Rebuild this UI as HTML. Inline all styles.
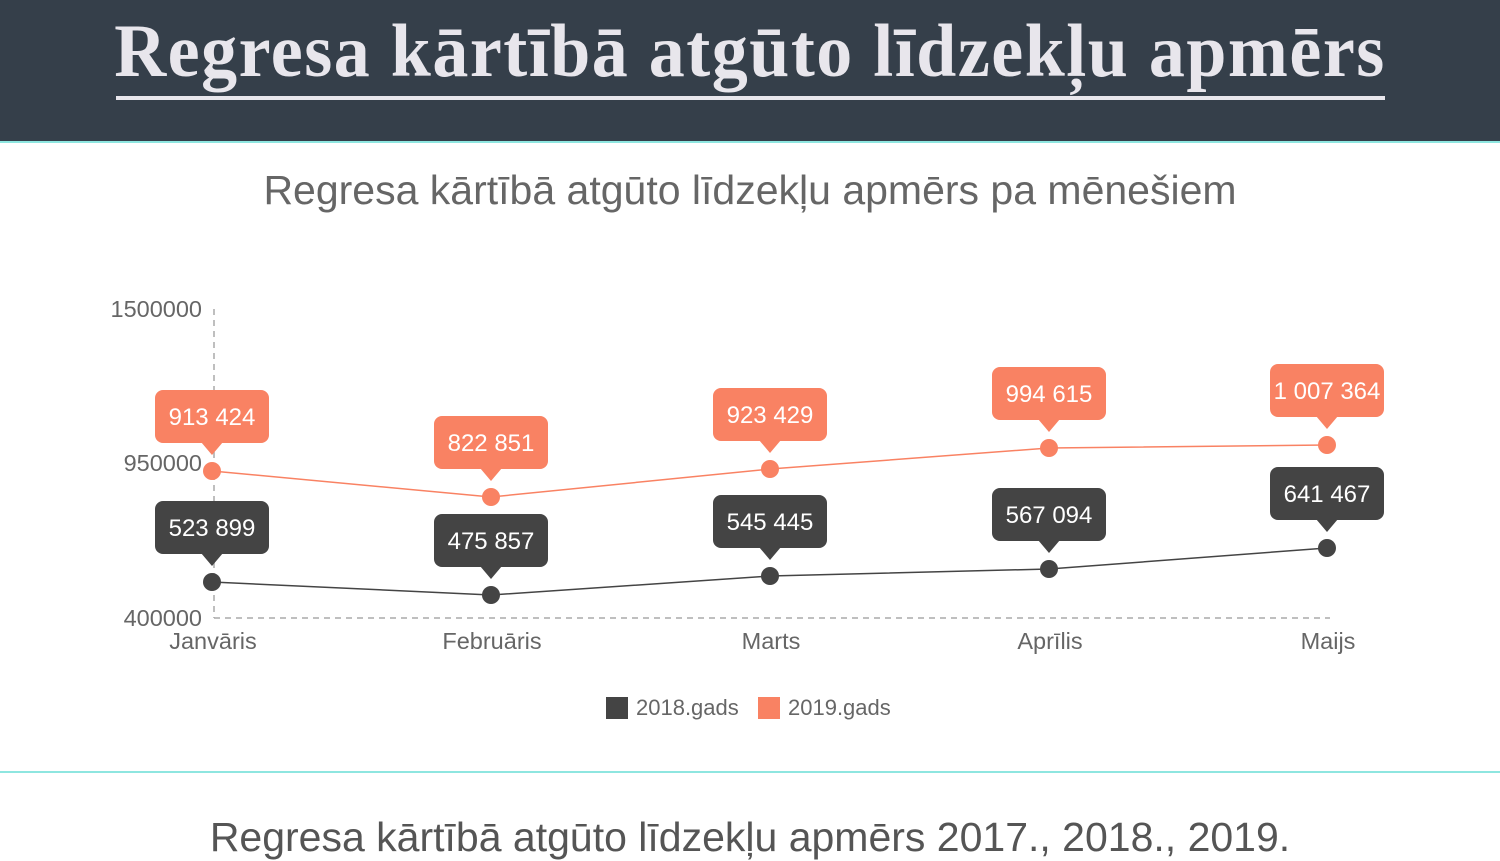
<!DOCTYPE html>
<html><head><meta charset="utf-8"><style>
body{margin:0;width:1500px;height:860px;overflow:hidden;background:#fff;font-family:"Liberation Sans",sans-serif;position:relative}
.hdr{position:absolute;left:0;top:0;width:1500px;height:141px;background:#353f4a;border-bottom:2px solid #8ee6e0}
.t{position:absolute;left:0;width:1500px;top:10px;text-align:center;font-family:"Liberation Serif",serif;font-weight:bold;font-size:72px;color:#e8e6ec;letter-spacing:1.5px;transform:scaleY(1.05)}
.ul{position:absolute;left:116px;top:96px;width:1269px;height:4px;background:#e8e6ec}
.sub{position:absolute;left:0;width:1500px;top:167px;text-align:center;font-size:41px;color:#666}
.bl{position:absolute;left:0;top:771px;width:1500px;height:2px;background:#8ee6e0}
.bt{position:absolute;left:0;width:1500px;top:814px;text-align:center;font-size:41px;color:#555}
</style></head><body>
<div class="hdr"><div class="t">Regresa kārtībā atgūto līdzekļu apmērs</div><div class="ul"></div></div>
<div class="sub">Regresa kārtībā atgūto līdzekļu apmērs pa mēnešiem</div>
<svg width="1500" height="860" style="position:absolute;left:0;top:0" font-family="Liberation Sans, sans-serif">
<g fill="#666" font-size="23.5" text-anchor="end">
<text x="202" y="317">1500000</text><text x="202" y="471">950000</text><text x="202" y="626">400000</text></g>
<line x1="214" y1="309" x2="214" y2="618" stroke="#aaa" stroke-width="1.5" stroke-dasharray="6,5"/>
<line x1="214" y1="618" x2="1330" y2="618" stroke="#aaa" stroke-width="1.5" stroke-dasharray="6,5"/>
<g fill="#666" font-size="23.5" text-anchor="middle">
<text x="213" y="649">Janvāris</text><text x="492" y="649">Februāris</text><text x="771" y="649">Marts</text><text x="1050" y="649">Aprīlis</text><text x="1328" y="649">Maijs</text></g>
<polyline points="212,471 491,497 770,469 1049,448 1327,445" fill="none" stroke="#f98263" stroke-width="1.5"/>
<polyline points="212,582 491,595 770,576 1049,569 1327,548" fill="none" stroke="#444" stroke-width="1.5"/>
<g id="pts"></g>
</svg>
<script>
var d=[[212,471,"913 424","#f98263"],[491,497,"822 851","#f98263"],[770,469,"923 429","#f98263"],[1049,448,"994 615","#f98263"],[1327,445,"1 007 364","#f98263"],
[212,582,"523 899","#444"],[491,595,"475 857","#444"],[770,576,"545 445","#444"],[1049,569,"567 094","#444"],[1327,548,"641 467","#444"]];
var s="";d.forEach(function(p){var x=p[0],y=p[1],c=p[3];
s+='<circle cx="'+x+'" cy="'+y+'" r="9" fill="'+c+'"/>';
s+='<rect x="'+(x-57)+'" y="'+(y-81)+'" width="114" height="53" rx="8" fill="'+c+'"/>';
s+='<polygon points="'+(x-11)+','+(y-29)+' '+(x+11)+','+(y-29)+' '+x+','+(y-16)+'" fill="'+c+'"/>';
s+='<text x="'+x+'" y="'+(y-46)+'" fill="#fff" font-size="24" text-anchor="middle">'+p[2]+'</text>';});
document.getElementById("pts").innerHTML=s;
</script>
<div style="position:absolute;left:606px;top:697px;width:22px;height:22px;background:#444"></div>
<div style="position:absolute;left:636px;top:695px;font-size:22px;color:#666">2018.gads</div>
<div style="position:absolute;left:758px;top:697px;width:22px;height:22px;background:#f98263"></div>
<div style="position:absolute;left:788px;top:695px;font-size:22px;color:#666">2019.gads</div>
<div class="bl"></div>
<div class="bt">Regresa kārtībā atgūto līdzekļu apmērs 2017., 2018., 2019.</div>
</body></html>
